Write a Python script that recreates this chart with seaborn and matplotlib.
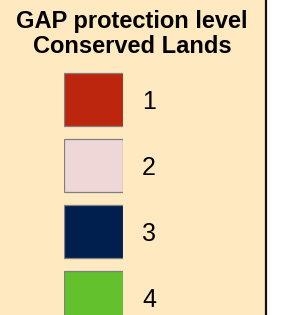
import matplotlib
matplotlib.use('Agg')
import matplotlib.pyplot as plt
import seaborn as sns
import pandas as pd

title = 'GAP protection level\nConserved Lands'
levels = ['1', '2', '3', '4']
colors = ['#BC260E', '#EFD7D8', '#001E4E', '#62C12D']
box = [1, 1, 1, 1]

sns.set_style('white')
plt.rcParams['font.family'] = ['Liberation Sans', 'DejaVu Sans']
plt.rcParams['text.color'] = 'black'
plt.rcParams['ytick.color'] = 'black'
plt.rcParams['ytick.labelcolor'] = 'black'

W, H = 288, 315
fig = plt.figure(figsize=(W / 100, H / 100), dpi=100)
fig.patch.set_facecolor('white')

# panel background with right border
bg = fig.add_axes((0, 0, 266 / W, 1))
bg.set_facecolor('#FFE9C0')
bg.set_xticks([])
bg.set_yticks([])
for s in ['top', 'left', 'bottom']:
    bg.spines[s].set_visible(False)
bg.spines['right'].set_color('#111111')
bg.spines['right'].set_linewidth(1.6)

fig.text(132 / W, 1 - 34 / H, title, ha='center', va='center',
         fontsize=17, fontweight='bold', linespacing=1.08, color='black')

# legend swatches
ax = fig.add_axes((64 / W, (H - 330) / H, 58.5 / W, 263.5 / H))
df = pd.DataFrame({'level': levels, 'box': box})
sns.barplot(data=df, x='box', y='level', hue='level', palette=colors,
            saturation=1, orient='h', width=0.8, edgecolor='#7F7F7F',
            linewidth=0.9, legend=False, ax=ax)
ax.set_xlim(0, 1)
ax.set_ylim(3.5, -0.5)
ax.patch.set_alpha(0)
ax.set_xticks([])
ax.set_xlabel('')
ax.set_ylabel('')
for s in ax.spines.values():
    s.set_visible(False)
ax.yaxis.tick_right()
ax.tick_params(axis='y', length=0, pad=14, labelsize=18, labelcolor='black')

fig.savefig('out.png', dpi=100, facecolor=fig.get_facecolor())
